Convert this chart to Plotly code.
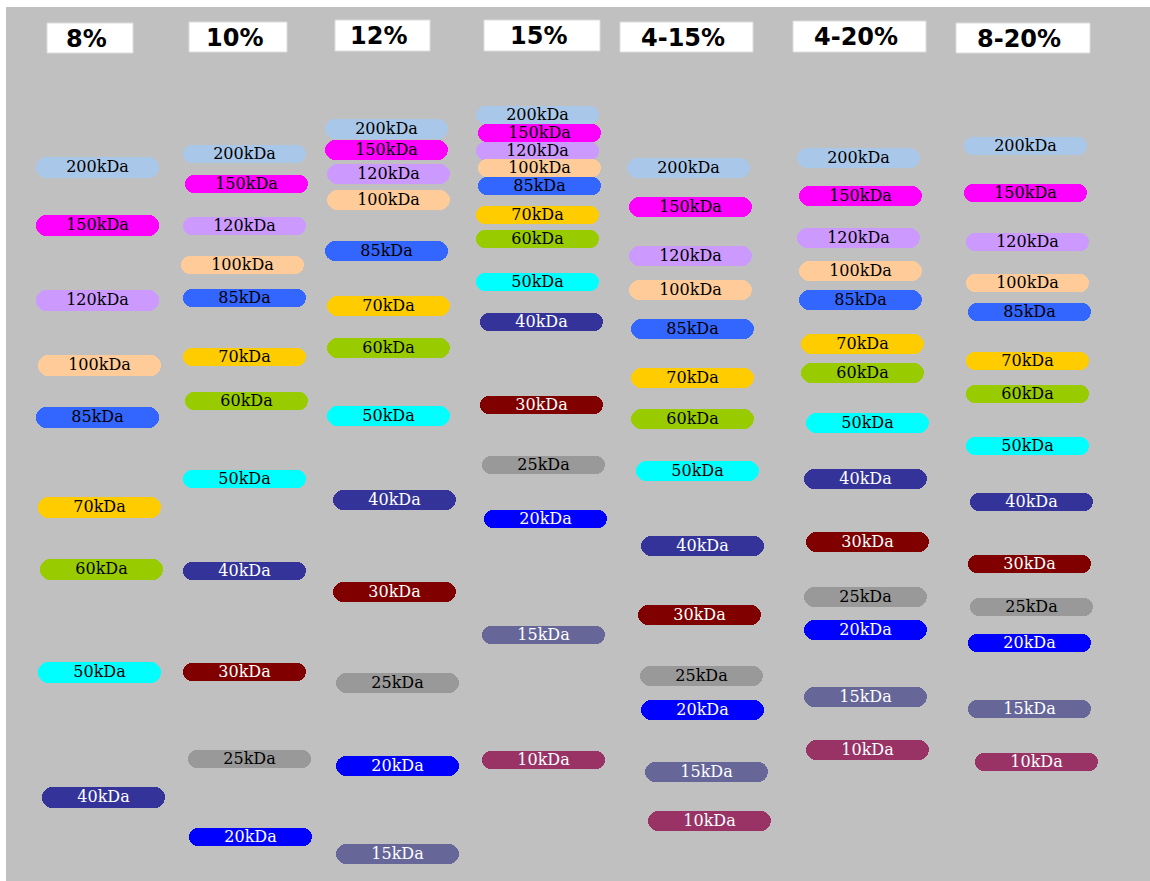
import plotly.graph_objects as go

# ---------------- data ----------------
lanes = ["8%", "10%", "12%", "15%", "4-15%", "4-20%", "8-20%"]
markers = ["200kDa", "150kDa", "120kDa", "100kDa", "85kDa", "70kDa", "60kDa",
           "50kDa", "40kDa", "30kDa", "25kDa", "20kDa", "15kDa", "10kDa"]

# migration position (px from top) of each marker band, per lane (in marker order)
migration_8 = [167, 225, 300, 365, 417, 507, 569, 672, 797]
migration_10 = [154, 184, 226, 265, 298, 357, 401, 479, 571, 672, 759, 837]
migration_12 = [129, 150, 174, 200, 251, 306, 348, 416, 500, 592, 683, 766, 854]
migration_15 = [115, 133, 151, 168, 186, 215, 239, 282, 322, 405, 465, 519, 635, 760]
migration_4_15 = [168, 207, 256, 290, 329, 378, 419, 471, 546, 615, 676, 710, 772, 821]
migration_4_20 = [158, 196, 238, 271, 300, 344, 373, 423, 479, 542, 597, 630, 697, 750]
migration_8_20 = [146, 193, 242, 283, 312, 361, 394, 446, 502, 564, 607, 643, 709, 762]

# horizontal start of each band (px), per lane
start_8 = [36, 36, 36, 38, 36, 38, 40, 38, 42]
start_10 = [183, 185, 183, 181, 183, 183, 185, 183, 183, 183, 188, 189]
start_12 = [325, 325, 327, 327, 325, 327, 327, 327, 333, 333, 336, 336, 336]
start_15 = [476, 478, 476, 478, 478, 476, 476, 476, 480, 480, 482, 484, 482, 482]
start_4_15 = [627, 629, 629, 629, 631, 631, 631, 636, 641, 638, 640, 641, 645, 648]
start_4_20 = [797, 799, 797, 799, 799, 801, 801, 806, 804, 806, 804, 804, 804, 806]
start_8_20 = [964, 964, 966, 966, 968, 966, 966, 966, 970, 968, 970, 968, 968, 975]

migrations = [migration_8, migration_10, migration_12, migration_15,
              migration_4_15, migration_4_20, migration_8_20]
starts = [start_8, start_10, start_12, start_15, start_4_15, start_4_20, start_8_20]

# header label boxes (left, right, top, bottom)
header_left = [47, 189, 335, 484, 620, 793, 956]
header_right = [133, 287, 430, 600, 753, 926, 1090]
header_top = [23, 22, 20, 20, 22, 21, 23]
header_bottom = [53, 52, 51, 51, 52, 52, 53]

# ---------------- styles ----------------
BAND_W = 123
lane_thickness = [21, 18, 20, 18, 20, 20, 18]
colors = {
    "200kDa": "#a9c7e8", "150kDa": "#ff00ff", "120kDa": "#cc99ff",
    "100kDa": "#ffcc99", "85kDa": "#3366ff", "70kDa": "#ffcc00",
    "60kDa": "#99cc00", "50kDa": "#00ffff", "40kDa": "#333399",
    "30kDa": "#800000", "25kDa": "#999999", "20kDa": "#0000ff",
    "15kDa": "#666699", "10kDa": "#993366",
}
white_text = {"40kDa", "30kDa", "20kDa", "15kDa", "10kDa"}

fig = go.Figure()

text_groups = {"black": ([], [], []), "white": ([], [], [])}

for m_idx, m in enumerate(markers):
    ys, centers, widths = [], [], []
    for l_idx, lane in enumerate(lanes):
        mig = migrations[l_idx]
        if m_idx >= len(mig):
            continue
        c = starts[l_idx][m_idx] + BAND_W / 2
        ys.append(mig[m_idx])
        centers.append(c)
        widths.append(lane_thickness[l_idx])
        grp = "white" if m in white_text else "black"
        text_groups[grp][0].append(c)
        text_groups[grp][1].append(mig[m_idx] + 1)
        text_groups[grp][2].append(m)
    # two overlapping halves so that both outer ends get the pill rounding
    ov = [t for t in widths]  # overlap equal to band thickness
    fig.add_trace(go.Bar(
        orientation="h", y=ys, x=[BAND_W / 2 + o for o in ov],
        base=[c - o for c, o in zip(centers, ov)],
        width=widths, marker=dict(color=colors[m], line=dict(width=0), cornerradius="50%"),
        hoverinfo="skip", showlegend=False))
    fig.add_trace(go.Bar(
        orientation="h", y=ys, x=[-(BAND_W / 2 + o) for o in ov],
        base=[c + o for c, o in zip(centers, ov)],
        width=widths, marker=dict(color=colors[m], line=dict(width=0), cornerradius="50%"),
        hoverinfo="skip", showlegend=False))

for grp, (xs, ys, ts) in text_groups.items():
    fig.add_trace(go.Scatter(
        x=xs, y=ys, text=ts, mode="text", textposition="middle center",
        textfont=dict(family="DejaVu Serif", size=16, color=grp),
        hoverinfo="skip", showlegend=False))

shapes = []
annotations = []
for i, lane in enumerate(lanes):
    shapes.append(dict(type="rect", xref="x", yref="y",
                       x0=header_left[i], x1=header_right[i],
                       y0=header_top[i], y1=header_bottom[i],
                       fillcolor="white", line=dict(color="#dcdcdc", width=1), layer="below"))
    annotations.append(dict(x=(header_left[i] + header_right[i]) / 2 - 4,
                            y=(header_top[i] + header_bottom[i]) / 2 + 1,
                            xref="x", yref="y", text="<b>%s</b>" % lane, showarrow=False,
                            font=dict(family="DejaVu Sans", size=24, color="black"),
                            xanchor="center", yanchor="middle"))

W, H = 1150, 881
fig.update_layout(
    width=W, height=H, margin=dict(l=0, r=0, t=0, b=0, pad=0),
    paper_bgcolor="white", plot_bgcolor="#c0c0c0",
    barmode="overlay", bargap=0,
    xaxis=dict(range=[6, W], domain=[6 / W, 1], visible=False, fixedrange=True),
    yaxis=dict(range=[H, 7], domain=[0, 1 - 7 / H], visible=False, fixedrange=True),
    shapes=shapes, annotations=annotations, showlegend=False,
)

fig.write_html("out.html", config={"displayModeBar": False},
               post_script="document.body.style.margin='0';document.body.style.overflow='hidden';")
